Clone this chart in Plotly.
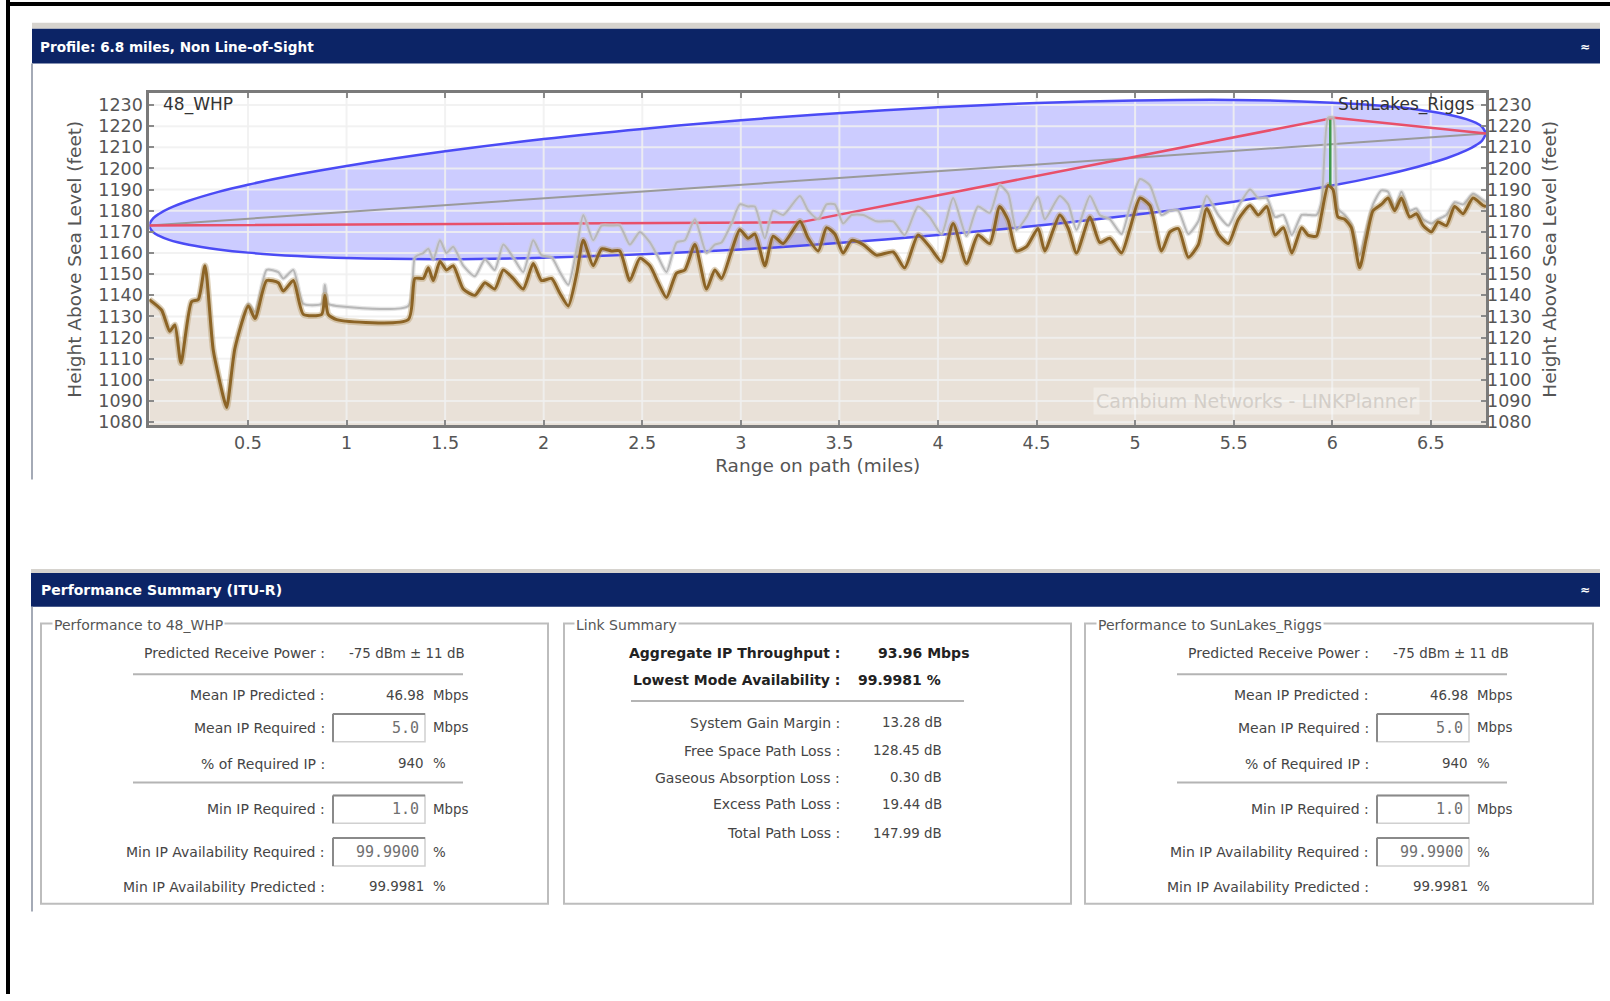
import plotly.graph_objects as go

W, H = 1610, 1001

# ---------------- data ----------------
chart_title = "Profile: 6.8 miles, Non Line-of-Sight"
site_a = "48_WHP"
site_b = "SunLakes_Riggs"

dist_mi = [0.000, 0.062, 0.103, 0.129, 0.160, 0.214, 0.248, 0.282, 0.324, 0.375, 0.392, 0.434,
           0.502, 0.536, 0.595, 0.654, 0.679, 0.730, 0.781, 0.874, 0.890, 0.907, 0.950, 1.313,
           1.347, 1.389, 1.415, 1.440, 1.474, 1.507, 1.541, 1.592, 1.651, 1.702, 1.752, 1.795,
           1.845, 1.896, 1.947, 1.989, 2.040, 2.082, 2.125, 2.167, 2.201, 2.251, 2.294, 2.344,
           2.386, 2.437, 2.488, 2.539, 2.581, 2.623, 2.674, 2.716, 2.767, 2.826, 2.868, 2.902,
           2.953, 2.995, 3.037, 3.071, 3.122, 3.164, 3.215, 3.300, 3.342, 3.393, 3.435, 3.477,
           3.519, 3.562, 3.621, 3.688, 3.773, 3.831, 3.899, 3.958, 4.018, 4.077, 4.145, 4.203,
           4.263, 4.313, 4.356, 4.398, 4.449, 4.508, 4.542, 4.618, 4.661, 4.703, 4.771, 4.821,
           4.872, 4.931, 4.974, 5.025, 5.075, 5.134, 5.177, 5.219, 5.270, 5.321, 5.363, 5.422,
           5.473, 5.524, 5.583, 5.625, 5.668, 5.710, 5.752, 5.795, 5.845, 5.877, 5.920, 5.945,
           5.979, 6.004, 6.029, 6.063, 6.097, 6.139, 6.173, 6.207, 6.249, 6.283, 6.317, 6.351,
           6.393, 6.427, 6.461, 6.503, 6.537, 6.579, 6.621, 6.664, 6.714, 6.765, 6.780]

terrain_ft = [1138, 1133, 1123, 1126, 1108, 1137, 1138, 1154, 1114, 1092, 1087, 1115,
              1135, 1129, 1147, 1146, 1142, 1147, 1131, 1131, 1140, 1131, 1128.5, 1128.5,
              1148, 1148, 1153, 1147, 1156, 1152, 1154, 1143, 1140, 1146, 1143, 1152,
              1148, 1143, 1155, 1147, 1148, 1141, 1135, 1150, 1166, 1154, 1162, 1161,
              1161, 1147, 1157.5, 1154, 1146, 1139, 1150.5, 1152, 1164, 1143, 1152, 1148,
              1161, 1171, 1167, 1169, 1154, 1168, 1164.5, 1175, 1167, 1161, 1172, 1169,
              1160, 1166, 1164, 1159, 1160.5, 1153, 1168.5, 1163, 1156, 1174, 1155, 1168.5,
              1164.5, 1182, 1175.5, 1161, 1163, 1171.6, 1161, 1178, 1171.6, 1160, 1177, 1165,
              1167, 1160, 1171.6, 1186, 1182.5, 1161, 1170, 1171.6, 1158, 1164, 1181, 1169,
              1164.5, 1176, 1182.5, 1178, 1182, 1168.5, 1172, 1160, 1172, 1168.5, 1168, 1178,
              1192, 1190, 1177, 1176, 1172, 1153, 1167, 1180, 1183, 1186, 1180, 1186,
              1177, 1178.6, 1173, 1170, 1174.7, 1173, 1182, 1178.6, 1186, 1182.5, 1182]

clutter_ft = [1138, 1133, 1123, 1126, 1108, 1137, 1138, 1154, 1114, 1092, 1087, 1115,
              1136, 1132, 1152, 1151, 1148, 1152, 1136, 1136, 1145, 1136, 1135, 1135,
              1158, 1160, 1162, 1157, 1166, 1160, 1163, 1154, 1149, 1157, 1152, 1164,
              1158, 1151, 1166, 1159, 1158, 1151, 1145, 1162, 1178, 1166, 1173, 1173,
              1173, 1164, 1170, 1165, 1158, 1151, 1165, 1166, 1176, 1160, 1164, 1165,
              1174, 1183, 1182, 1182, 1167, 1180, 1178, 1187, 1180, 1176, 1183, 1183,
              1174, 1178, 1178, 1175, 1175, 1168.5, 1182, 1177, 1169, 1186, 1168, 1182,
              1179, 1192, 1188, 1171, 1177, 1186.5, 1176, 1187, 1183, 1171, 1187, 1178,
              1176, 1169, 1182, 1195, 1192, 1178, 1180, 1180, 1169, 1175, 1187, 1178,
              1173, 1182, 1190, 1186, 1186, 1177, 1178, 1168.5, 1178, 1178, 1178, 1184,
              1224, 1224, 1181, 1178, 1173.5, 1159, 1171, 1183, 1189.6, 1189, 1181, 1189,
              1180, 1181, 1176, 1174, 1176, 1178, 1184, 1183, 1188, 1185, 1184]

fresnel_mi = [0, 0.02, 0.05, 0.1, 0.2, 0.35, 0.5, 0.75, 1.0, 1.5, 2.0, 2.5, 3.0, 3.39,
              4.0, 4.5, 5.0, 5.5, 6.0, 6.25, 6.43, 6.58, 6.68, 6.73, 6.76, 6.78]
fresnel_upper_ft = [1173, 1176.5, 1178.6, 1181.1, 1184.7, 1188.9, 1192.3, 1197.1, 1201.2,
                    1208.1, 1213.9, 1218.7, 1222.8, 1225.5, 1228.9, 1230.9, 1232.1, 1232.4,
                    1231.1, 1229.6, 1227.9, 1225.6, 1223.3, 1221.5, 1219.7, 1216.5]
fresnel_lower_ft = [1173, 1169.8, 1168.1, 1166.2, 1163.9, 1161.7, 1160.2, 1158.6, 1157.6,
                    1157.1, 1157.8, 1159.4, 1161.7, 1164.0, 1168.5, 1172.9, 1178.1, 1184.3,
                    1191.9, 1196.6, 1200.7, 1204.8, 1208.5, 1211.0, 1213.1, 1216.5]

los_mi = [0, 6.78]
los_ft = [1173, 1216.5]
path_mi = [0, 3.30, 6.01, 6.78]
path_ft = [1173, 1174.5, 1224, 1216.5]
obstruction_mi = [5.99, 5.99]
obstruction_ft = [1192, 1223]

x_ticks = [0.5, 1, 1.5, 2, 2.5, 3, 3.5, 4, 4.5, 5, 5.5, 6, 6.5]
x_tick_labels = ["0.5", "1", "1.5", "2", "2.5", "3", "3.5", "4", "4.5", "5", "5.5", "6", "6.5"]
y_ticks = [1080, 1090, 1100, 1110, 1120, 1130, 1140, 1150, 1160, 1170, 1180, 1190, 1200,
           1210, 1220, 1230]
y_tick_labels = [str(v) for v in y_ticks]

x_title = "Range on path (miles)"
y_title = "Height Above Sea Level (feet)"
watermark = "Cambium Networks - LINKPlanner"

summary_title = "Performance Summary (ITU-R)"
perf_titles = ["Performance to 48_WHP", "Performance to SunLakes_Riggs"]
perf_labels = ["Predicted Receive Power :", "Mean IP Predicted :", "Mean IP Required :",
               "% of Required IP :", "Min IP Required :", "Min IP Availability Required :",
               "Min IP Availability Predicted :"]
perf_values_a = ["-75 dBm ± 11 dB", "46.98", "5.0", "940", "1.0", "99.9900", "99.9981"]
perf_values_b = ["-75 dBm ± 11 dB", "46.98", "5.0", "940", "1.0", "99.9900", "99.9981"]
perf_units = ["", "Mbps", "Mbps", "%", "Mbps", "%", "%"]
perf_is_input = [False, False, True, False, True, True, False]

link_title = "Link Summary"
link_bold_labels = ["Aggregate IP Throughput :", "Lowest Mode Availability :"]
link_bold_values = ["93.96 Mbps", "99.9981 %"]
link_labels = ["System Gain Margin :", "Free Space Path Loss :", "Gaseous Absorption Loss :",
               "Excess Path Loss :", "Total Path Loss :"]
link_values = ["13.28 dB", "128.45 dB", "0.30 dB", "19.44 dB", "147.99 dB"]

# ---------------- layout helpers ----------------
def PX(x):
    return x / W


def PY(y):
    return 1 - y / H


shapes = []
annos = []


def rect(x0, y0, x1, y1, fill="rgba(0,0,0,0)", line="rgba(0,0,0,0)", lw=0):
    shapes.append(dict(type="rect", xref="paper", yref="paper", x0=PX(x0), x1=PX(x1),
                       y0=PY(y1), y1=PY(y0), fillcolor=fill, line=dict(color=line, width=lw),
                       layer="above"))


def seg(x0, y0, x1, y1, color, lw):
    shapes.append(dict(type="line", xref="paper", yref="paper", x0=PX(x0), x1=PX(x1),
                       y0=PY(y0), y1=PY(y1), line=dict(color=color, width=lw), layer="above"))


FONT = "DejaVu Sans"


def text(x, y, s, anchor="left", size=12, color="#444444", bold=False, family=FONT, bg=None,
         pad=0):
    a = dict(x=PX(x), y=PY(y), xref="paper", yref="paper", text=("<b>%s</b>" % s) if bold else s,
             showarrow=False, xanchor=anchor, yanchor="middle",
             font=dict(family=family, size=size, color=color), borderpad=pad)
    if bg:
        a["bgcolor"] = bg
    annos.append(a)


# ---------------- figure ----------------
fig = go.Figure()
SM = 0.6

# clutter area (white) and terrain area (beige)
fig.add_trace(go.Scatter(x=dist_mi, y=clutter_ft, mode="lines",
                         line=dict(width=0, shape="spline", smoothing=SM),
                         fill="tozeroy", fillcolor="#ffffff", hoverinfo="skip", showlegend=False))
fig.add_trace(go.Scatter(x=dist_mi, y=terrain_ft, mode="lines",
                         line=dict(width=0, shape="spline", smoothing=SM),
                         fill="tozeroy", fillcolor="#e9e1d8", hoverinfo="skip", showlegend=False))

# fresnel zone fill
ell_x = fresnel_mi + fresnel_mi[::-1]
ell_y = fresnel_upper_ft + fresnel_lower_ft[::-1]
fig.add_trace(go.Scatter(x=ell_x, y=ell_y, mode="lines", line=dict(width=0, shape="spline"),
                         fill="toself", fillcolor="rgba(100,100,255,0.33)", hoverinfo="skip",
                         showlegend=False))

# grid lines drawn over fills
gx, gy = [], []
for t in x_ticks:
    gx += [t, t, None]
    gy += [y_ticks[0] - 5, y_ticks[-1] + 10, None]
for t in y_ticks:
    gx += [0, 7, None]
    gy += [t, t, None]
fig.add_trace(go.Scatter(x=gx, y=gy, mode="lines", line=dict(color="rgba(240,240,240,0.85)", width=2),
                         hoverinfo="skip", showlegend=False))

# fresnel outline
fig.add_trace(go.Scatter(x=ell_x, y=ell_y, mode="lines",
                         line=dict(color="#4b4bf5", width=2.5, shape="spline"),
                         hoverinfo="skip", showlegend=False))
# line of sight
fig.add_trace(go.Scatter(x=los_mi, y=los_ft, mode="lines", line=dict(color="#9a9a9a", width=2),
                         hoverinfo="skip", showlegend=False))
# radio path
fig.add_trace(go.Scatter(x=path_mi, y=path_ft, mode="lines", line=dict(color="#e8506a", width=2.5),
                         hoverinfo="skip", showlegend=False))
# clutter line (with soft halo)
fig.add_trace(go.Scatter(x=dist_mi, y=clutter_ft, mode="lines",
                         line=dict(color="rgba(205,205,205,0.5)", width=4.5, shape="spline",
                                   smoothing=SM), hoverinfo="skip", showlegend=False))
fig.add_trace(go.Scatter(x=dist_mi, y=clutter_ft, mode="lines",
                         line=dict(color="#b8b8b8", width=2, shape="spline", smoothing=SM),
                         hoverinfo="skip", showlegend=False))
# terrain line (with soft halo)
fig.add_trace(go.Scatter(x=dist_mi, y=terrain_ft, mode="lines",
                         line=dict(color="rgba(185,155,105,0.45)", width=6.5, shape="spline",
                                   smoothing=SM), hoverinfo="skip", showlegend=False))
fig.add_trace(go.Scatter(x=dist_mi, y=terrain_ft, mode="lines",
                         line=dict(color="#8c6426", width=3, shape="spline", smoothing=SM),
                         hoverinfo="skip", showlegend=False))
# obstruction
fig.add_trace(go.Scatter(x=obstruction_mi, y=obstruction_ft, mode="lines",
                         line=dict(color="#3f9a4a", width=2.5), hoverinfo="skip", showlegend=False))
# dummy for right axis
fig.add_trace(go.Scatter(x=[0], y=[y_ticks[0]], yaxis="y2", mode="markers",
                         marker=dict(opacity=0), hoverinfo="skip", showlegend=False))

# site labels and watermark
annos.append(dict(x=0.06, y=1230, xref="x", yref="y", text=site_a, showarrow=False,
                  xanchor="left", yanchor="middle", font=dict(family=FONT, size=17, color="#333333")))
annos.append(dict(x=6.73, y=1230, xref="x", yref="y", text=site_b, showarrow=False,
                  xanchor="right", yanchor="middle", font=dict(family=FONT, size=17, color="#333333")))
annos.append(dict(x=PX(1256), y=PY(404), xref="paper", yref="paper", text=watermark,
                  showarrow=False, xanchor="center", yanchor="middle",
                  font=dict(family=FONT, size=19, color="#d3cec8"),
                  bgcolor="rgba(255,255,255,0.35)", borderpad=2))

# ---------------- window chrome ----------------
seg(8, 0, 8, H, "#000000", 4)
seg(6, 4, W, 4, "#000000", 4)

rect(32, 23, 1600, 29, fill="#d6d3ce")
rect(32, 29, 1600, 64, fill="#0c2466")
text(39, 47, chart_title, size=13.6, color="#ffffff", bold=True)
text(1585, 47, "≈", anchor="center", size=12, color="#ffffff", bold=True)
seg(32, 64, 32, 483, "#a4aab6", 2)

rect(31, 573, 1600, 577, fill="#d6d3ce")
rect(31, 577, 1600, 611, fill="#0c2466")
text(40, 594, summary_title, size=14, color="#ffffff", bold=True)
text(1585, 594, "≈", anchor="center", size=12, color="#ffffff", bold=True)
seg(32, 611, 32, 918, "#a4aab6", 2)

box_left = [41, 564, 1085]
box_right = [548, 1071, 1593]
for i in range(3):
    rect(box_left[i], 628, box_right[i], 910, line="#bdbdbd", lw=2)

row_y = [658, 700, 733, 769, 815, 858, 893]
sep_y = [679, 788]
LAB = 14
VAL = 13.4


def perf_box(off, title, values):
    text(52 + off, 629, title, size=14, color="#555555", bg="#ffffff", pad=1)
    for yy in sep_y:
        seg(133 + off, yy, 463 + off, yy, "#b4b4b4", 2)
    for lab, val, unit, inp, yy in zip(perf_labels, values, perf_units, perf_is_input, row_y):
        text(326 + off, yy, lab, anchor="right", size=LAB, color="#454545")
        if unit == "":
            text(466 + off, yy, val, anchor="right", size=VAL, color="#454545")
            continue
        if inp:
            rect(333 + off, yy - 14, 425 + off, yy + 14, fill="#ffffff", line="#d0d0d0", lw=1.5)
            seg(333 + off, yy - 14, 425 + off, yy - 14, "#8a8a8a", 2)
            seg(333 + off, yy - 14, 333 + off, yy + 14, "#8a8a8a", 2)
            text(420 + off, yy, val, anchor="right", size=15, color="#707070",
                 family="DejaVu Sans Mono")
        else:
            text(425 + off, yy, val, anchor="right", size=VAL, color="#454545")
        text(432 + off, yy, unit, anchor="left", size=VAL, color="#454545")


perf_box(0, perf_titles[0], perf_values_a)
perf_box(1044, perf_titles[1], perf_values_b)

text(574, 629, link_title, size=14, color="#555555", bg="#ffffff", pad=1)
link_bold_y = [658, 685]
link_bold_vx = [877, 857]
for lab, val, yy, vx in zip(link_bold_labels, link_bold_values, link_bold_y, link_bold_vx):
    text(841, yy, lab, anchor="right", size=14, color="#222222", bold=True)
    text(vx, yy, val, anchor="left", size=14, color="#222222", bold=True)
seg(631, 706, 964, 706, "#b4b4b4", 2)
link_y = [728, 756, 783, 810, 839]
for lab, val, yy in zip(link_labels, link_values, link_y):
    text(841, yy, lab, anchor="right", size=LAB, color="#454545")
    text(943, yy, val, anchor="right", size=VAL, color="#454545")

# ---------------- axes ----------------
x_dom = [149.4 / W, 1486 / W]
y_dom = [1 - 428 / H, 1 - 94 / H]
y_range = [1078.7, 1235.5]
tick_font = dict(family=FONT, size=17.5, color="#555555")
title_font = dict(family=FONT, size=18.5, color="#555555")

fig.update_layout(
    width=W, height=H, margin=dict(l=0, r=0, t=0, b=0),
    paper_bgcolor="#ffffff", plot_bgcolor="#ffffff", showlegend=False,
    xaxis=dict(domain=x_dom, range=[0, 6.78], tickvals=x_ticks, ticktext=x_tick_labels,
               ticks="inside", ticklen=5, tickcolor="#8a8a8a", tickwidth=2,
               showgrid=False, zeroline=False, showline=True, linecolor="#7a7a7a",
               linewidth=3, mirror="ticks", tickfont=tick_font,
               title=dict(text=x_title, font=title_font, standoff=8)),
    yaxis=dict(domain=y_dom, range=y_range, tickvals=y_ticks, ticktext=y_tick_labels,
               ticks="inside", ticklen=5, tickcolor="#8a8a8a", tickwidth=2,
               showgrid=False, zeroline=False, showline=True, linecolor="#7a7a7a",
               linewidth=3, mirror="ticks", tickfont=tick_font,
               title=dict(text=y_title, font=title_font, standoff=12)),
    yaxis2=dict(overlaying="y", side="right", anchor="x", range=y_range, tickvals=y_ticks,
                ticktext=y_tick_labels, ticks="", showgrid=False, zeroline=False,
                showline=False, tickfont=tick_font,
                title=dict(text=y_title, font=title_font, standoff=12)),
    shapes=shapes, annotations=annos,
)

post = ("document.documentElement.style.margin='0';document.documentElement.style.padding='0';"
        "document.body.style.margin='0';document.body.style.padding='0';"
        "document.documentElement.style.overflow='hidden';document.body.style.overflow='hidden';"
        "var d=document.getElementById('{plot_id}');if(d&&d.parentElement){"
        "d.parentElement.style.height='1001px';d.parentElement.style.overflow='hidden';}")

fig.write_html("out.html", config={"displayModeBar": False}, post_script=post)
